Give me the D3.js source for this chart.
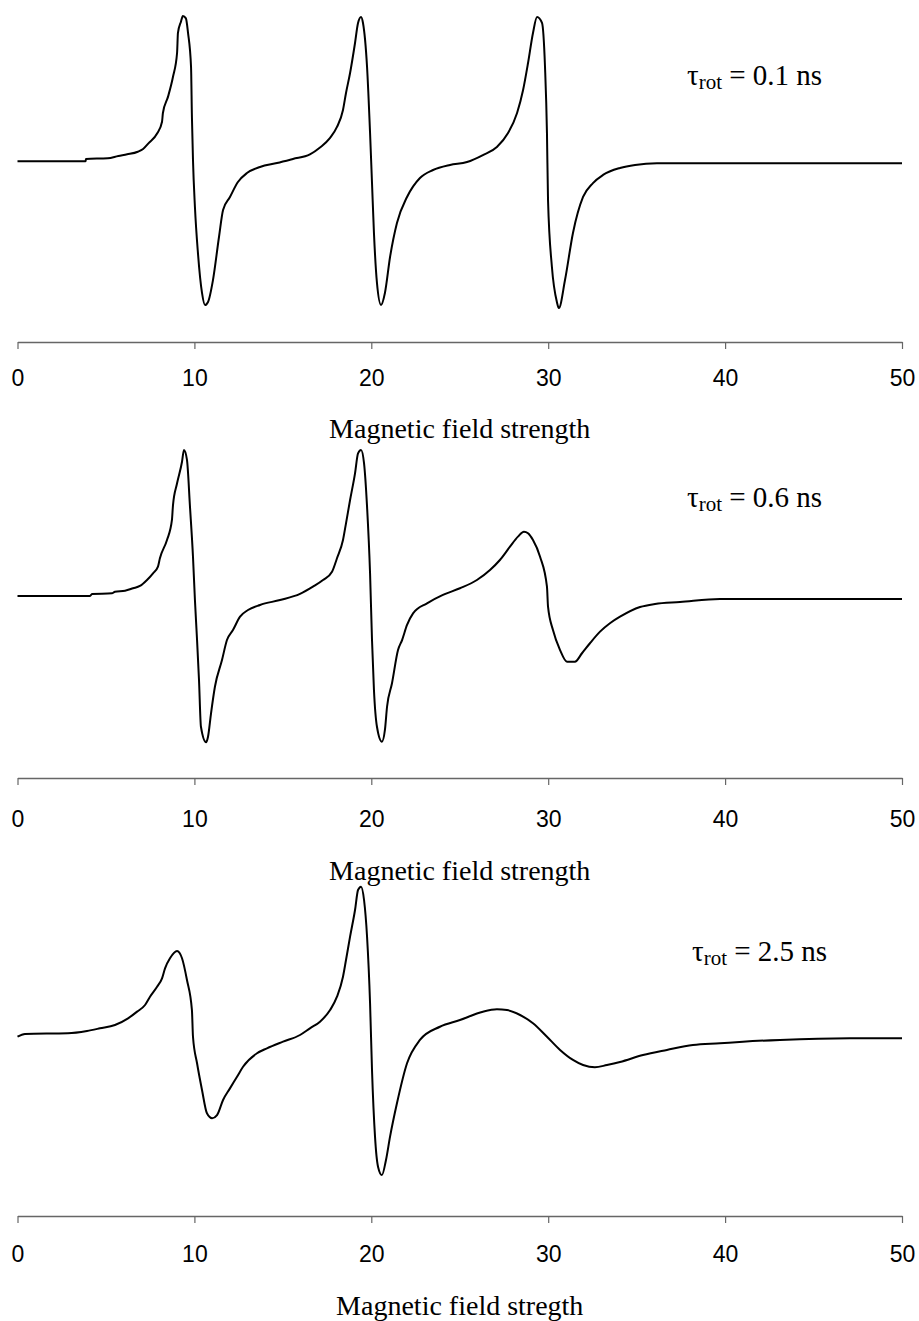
<!DOCTYPE html>
<html>
<head>
<meta charset="utf-8">
<script src="https://cdn.jsdelivr.net/npm/d3@7"></script>
<style>
  body { margin: 0; background: #fff; }
</style>
</head>
<body>
<svg id="chart"></svg>
<script>
// x = magnetic field, y = signal (baseline 0, peak ~100)
const fieldTicks = [0, 10, 20, 30, 40, 50];
const tauValues = ["0.1", "0.6", "2.5"];
const axisTitles = ["Magnetic field strength", "Magnetic field strength", "Magnetic field stregth"];

const spectrumFast = [
  [0, -0.9], [3.85, -0.9], [3.87, 0.7], [5.1, 1.2], [5.7, 2.8], [6.2, 3.9], [6.8, 5.7], [7.1, 7.6],
  [7.4, 11.5], [7.9, 18.4], [8.17, 26.4], [8.22, 32.4], [8.51, 43.7], [8.79, 57.4], [9.02, 73.8],
  [9.07, 87.6], [9.24, 95.4], [9.35, 99.3], [9.52, 97.7], [9.64, 87.6], [9.81, 64.1], [9.86, 29.7],
  [9.92, 0], [10.03, -32.4], [10.2, -64.1], [10.43, -91.7], [10.6, -100], [10.77, -97.9],
  [11.05, -82.8], [11.39, -53.1], [11.62, -34.5], [12.01, -25.5], [12.46, -15.2], [12.97, -9.0],
  [13.71, -4.8], [14.67, -2.1], [15.57, 0.7], [16.53, 3.8], [17.1, 8.6], [17.67, 15.2],
  [18.06, 22.8], [18.4, 34.5], [18.57, 46.2], [18.8, 60.0], [19.08, 80.7], [19.25, 94.5],
  [19.42, 98.6], [19.53, 94.5], [19.76, 64.1], [19.93, 18.6], [20.04, -15.9], [20.15, -50.3],
  [20.32, -84.8], [20.55, -100], [20.77, -91.7], [21.06, -66.9], [21.45, -43.4], [22.02, -25.5],
  [22.75, -12.4], [23.49, -6.9], [24.45, -3.4], [25.41, -1.4], [26.31, 3.4], [27.1, 9.0],
  [27.73, 18.6], [28.24, 32.4], [28.58, 48.3], [28.86, 66.9], [29.14, 87.6], [29.37, 98.6],
  [29.65, 94.5], [29.82, 64.1], [29.93, 18.6], [29.99, -27.6], [30.21, -73.8], [30.49, -97.9],
  [30.6, -102.1], [30.95, -82.8], [31.4, -50.3], [31.97, -25.5], [32.53, -15.9], [33.1, -10.3],
  [34.06, -5.5], [34.91, -3.4], [36.15, -2.3], [50, -2.3]
];

const spectrumMid = [
  [0, 1.4], [4.1, 1.4], [4.21, 2.8], [5.34, 3.2], [5.51, 4.3], [6.08, 5.0], [6.53, 6.7], [6.92, 8.3],
  [7.32, 12.4], [7.66, 17.0], [7.94, 21.6], [8.05, 27.4], [8.45, 40.0], [8.73, 53.8], [8.79, 64.1],
  [9.02, 79.1], [9.3, 94.0], [9.41, 102.1], [9.58, 95.2], [9.75, 63.0], [9.92, 28.5], [10.03, -1.4],
  [10.15, -29.0], [10.26, -56.6], [10.37, -88.8], [10.66, -99.5], [10.77, -95.7], [10.94, -79.5],
  [11.16, -61.2], [11.56, -42.8], [11.84, -29.0], [12.18, -22.1], [12.58, -12.9], [13.03, -8.3],
  [13.71, -4.8], [14.84, -1.4], [15.97, 2.8], [16.7, 7.8], [17.27, 12.4], [17.78, 18.1],
  [18.06, 27.4], [18.4, 40.0], [18.57, 51.5], [18.8, 67.6], [19.08, 86.0], [19.25, 99.8],
  [19.42, 102.1], [19.59, 92.9], [19.76, 63.0], [19.93, 17.0], [20.04, -29.0], [20.15, -63.4],
  [20.32, -88.8], [20.6, -99.1], [20.77, -91.0], [20.89, -75.0], [21.17, -58.8], [21.51, -35.9],
  [21.74, -29.0], [22.02, -18.6], [22.36, -10.6], [23.15, -3.7], [24.05, 2.1], [25.01, 6.7],
  [25.97, 12.4], [26.71, 19.3], [27.27, 26.2], [27.84, 35.4], [28.29, 42.3], [28.63, 45.7],
  [28.86, 44.6], [29.14, 40.0], [29.54, 28.5], [29.93, 7.8], [29.99, -6.0], [30.27, -22.1],
  [30.67, -35.9], [31.06, -43.9], [31.51, -43.9], [31.91, -38.1], [32.36, -31.2], [32.93, -23.2],
  [33.49, -17.4], [34.06, -12.9], [35.19, -6.2], [36.04, -4.1], [37.45, -2.8], [39.71, -0.7],
  [50, -0.7]
];

const spectrumSlow = [
  [0, -1.2], [0.42, 0.7], [2.85, 1.2], [3.93, 2.8], [4.66, 4.6], [5.51, 6.9], [6.25, 11.5],
  [6.76, 16.1], [7.21, 20.7], [7.49, 26.4], [7.89, 33.3], [8.17, 39.1], [8.34, 46.0], [8.62, 52.9],
  [9.02, 57.9], [9.3, 52.9], [9.58, 37.9], [9.86, 17.2], [9.92, -1.2], [10.15, -19.5],
  [10.43, -37.9], [10.71, -54.0], [11.0, -57.4], [11.28, -55.2], [11.62, -44.8], [12.01, -36.8],
  [12.41, -28.8], [12.75, -21.9], [13.54, -12.6], [14.1, -9.2], [15.01, -4.6], [15.97, 0],
  [16.53, 4.6], [17.1, 9.2], [17.67, 17.2], [18.06, 26.4], [18.4, 40.2], [18.57, 51.7],
  [18.8, 67.8], [19.08, 86.2], [19.25, 100], [19.42, 102.3], [19.59, 93.1], [19.76, 67.8],
  [19.93, 21.9], [20.04, -24.1], [20.21, -70.1], [20.38, -90.8], [20.6, -96.6], [20.83, -86.2],
  [21.06, -70.1], [21.45, -47.1], [22.02, -19.5], [22.75, -3.4], [23.88, 5.7], [25.01, 10.3],
  [26.31, 16.1], [27.1, 17.7], [27.67, 17.2], [28.41, 13.8], [29.14, 8.1], [29.93, -1.2],
  [30.67, -10.3], [31.4, -17.2], [31.97, -20.7], [32.64, -22.3], [33.32, -20.7], [34.06, -18.6],
  [35.36, -13.8], [36.71, -10.3], [38.18, -6.9], [39.71, -5.7], [41.01, -4.6], [43.1, -3.4],
  [47.06, -2.3], [50, -2.3]
];

const spectra = [spectrumFast, spectrumMid, spectrumSlow];

const width = 919;
const height = 1321;

// per-panel vertical layout (pixels)
const baselineY = [160, 598, 1035];
const axisY = [342, 778, 1216];
const tickLabelY = [386, 827, 1262];
const titleY = [438, 880, 1315];
const tauY = [85, 507, 961];
const tauX = [687, 687, 692];

const svg = d3.select("#chart")
  .attr("width", width)
  .attr("height", height);

const x = d3.scaleLinear()
  .domain([0, 50])
  .range([17.5, 902]);

const line = d3.line().curve(d3.curveMonotoneX);

spectra.forEach((data, i) => {
  const y = d3.scaleLinear()
    .domain([-100, 100])
    .range([baselineY[i] + 145, baselineY[i] - 145]);

  svg.append("path")
    .datum(data)
    .attr("fill", "none")
    .attr("stroke", "#000")
    .attr("stroke-width", 2)
    .attr("stroke-linejoin", "round")
    .attr("d", line.x(d => x(d[0])).y(d => y(d[1])));

  // axis
  const g = svg.append("g")
    .attr("transform", `translate(0,${axisY[i]})`)
    .call(d3.axisBottom(x).tickValues(fieldTicks).tickSize(7).tickSizeOuter(0));

  g.select(".domain").attr("stroke", "#666").attr("stroke-width", 1.3);
  g.selectAll(".tick line").attr("stroke", "#666").attr("stroke-width", 1.2);
  g.selectAll(".tick text")
    .attr("y", tickLabelY[i] - axisY[i])
    .attr("dy", null)
    .attr("fill", "#000")
    .style("font-family", "'Liberation Sans', Arial, sans-serif")
    .style("font-size", "23px");

  svg.append("text")
    .attr("x", (x(0) + x(50)) / 2)
    .attr("y", titleY[i])
    .attr("text-anchor", "middle")
    .style("font-family", "'Liberation Serif', 'Times New Roman', serif")
    .style("font-size", "28px")
    .text(axisTitles[i]);

  // tau label
  const tau = svg.append("text")
    .attr("x", tauX[i])
    .attr("y", tauY[i])
    .style("font-family", "'Liberation Serif', 'Times New Roman', serif")
    .style("font-size", "29px");
  tau.append("tspan").text("τ");
  tau.append("tspan").attr("dy", 4).style("font-size", "21px").text("rot");
  tau.append("tspan").attr("dy", -4).text(` = ${tauValues[i]} ns`);
});
</script>
</body>
</html>
